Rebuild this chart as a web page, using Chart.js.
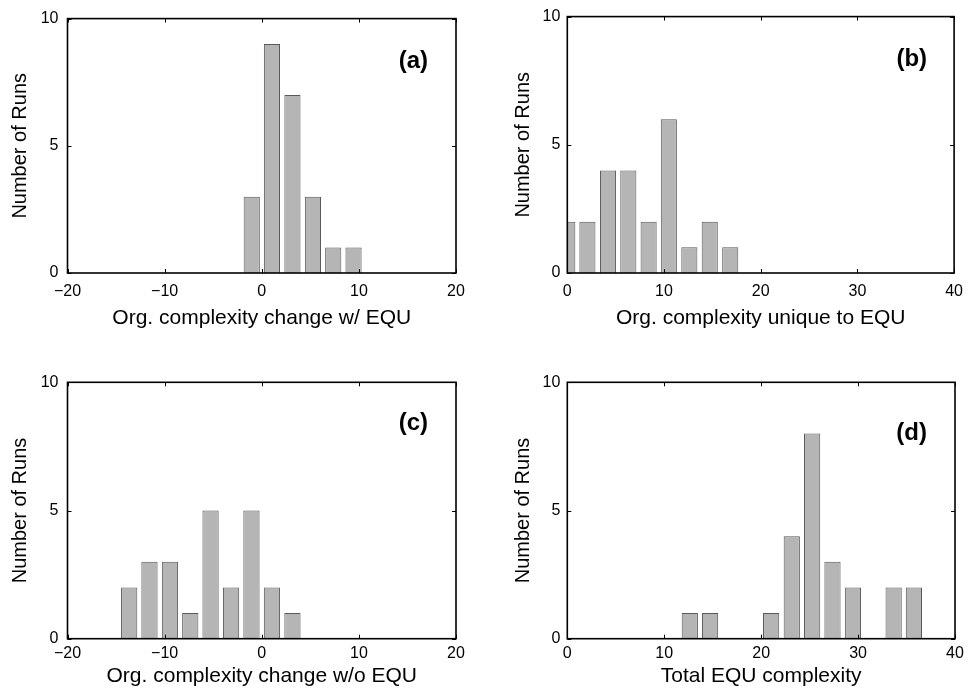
<!DOCTYPE html>
<html lang="en">
<head>
<meta charset="UTF-8">
<title>EQU complexity histograms</title>
<script src="https://cdn.jsdelivr.net/npm/chart.js"></script>
<style>
  html, body { margin: 0; padding: 0; background: #fff; }
  #wrap { position: relative; width: 972px; height: 694px; }
  #wrap canvas { position: absolute; }
</style>
</head>
<body>
<div id="wrap">
  <canvas id="chartA" width="486" height="347" style="left:0;top:0"></canvas>
  <canvas id="chartB" width="486" height="347" style="left:486px;top:0"></canvas>
  <canvas id="chartC" width="486" height="347" style="left:0;top:347px"></canvas>
  <canvas id="chartD" width="486" height="347" style="left:486px;top:347px"></canvas>
</div>
<script>
// bin centres and run counts
const binsA = [-1.03, 1.05, 3.16, 5.27, 7.36, 9.45];
const runsA = [3, 9, 7, 3, 1, 1];
const binsB = [0.0, 2.08, 4.21, 6.31, 8.41, 10.5, 12.62, 14.73, 16.85];
const runsB = [2, 2, 4, 4, 2, 6, 1, 2, 1];
const binsC = [-13.65, -11.56, -9.45, -7.36, -5.27, -3.16, -1.06, 1.05, 3.16];
const runsC = [2, 3, 3, 1, 5, 2, 5, 2, 1];
const binsD = [12.64, 14.73, 21.03, 23.16, 25.26, 27.36, 29.47, 33.67, 35.76];
const runsD = [1, 1, 1, 4, 8, 3, 2, 2, 2];

const xTicksChange = [-20, -10, 0, 10, 20];
const xTicksTotal = [0, 10, 20, 30, 40];
const yTicks = [0, 5, 10];

const FONT = '"Liberation Sans", Arial, Helvetica, sans-serif';
Chart.defaults.color = '#000';
Chart.defaults.font.family = FONT;

// matlab-ish box with inward ticks, plus the (a)-(d) tag
const framePlugin = {
  id: 'frame',
  afterDatasetsDraw(chart, args, opts) {
    const { ctx, chartArea: a, scales: { x, y } } = chart;
    ctx.save();
    ctx.strokeStyle = '#000';
    ctx.lineWidth = 1;
    ctx.beginPath();
    x.ticks.forEach(t => {
      const px = Math.round(x.getPixelForValue(t.value)) + 0.5;
      ctx.moveTo(px, a.bottom); ctx.lineTo(px, a.bottom - 4);
      ctx.moveTo(px, a.top); ctx.lineTo(px, a.top + 4);
    });
    y.ticks.forEach(t => {
      const py = Math.round(y.getPixelForValue(t.value)) + 0.5;
      ctx.moveTo(a.left, py); ctx.lineTo(a.left + 4, py);
      ctx.moveTo(a.right, py); ctx.lineTo(a.right - 4, py);
    });
    ctx.stroke();
    ctx.lineWidth = 1.6;
    ctx.strokeRect(a.left, a.top, a.right - a.left, a.bottom - a.top);

    ctx.fillStyle = '#000';
    ctx.font = 'bold 24px ' + FONT;
    ctx.textAlign = 'right';
    ctx.textBaseline = 'middle';
    ctx.fillText(opts.tag, a.right - opts.tagRight, a.top + opts.tagY);
    ctx.restore();
  }
};

function minusFmt(v) {
  return v < 0 ? '\u2212' + Math.abs(v) : String(v);
}

function makePanel(id, p) {
  return new Chart(document.getElementById(id), {
    type: 'bar',
    data: {
      datasets: [{
        data: p.bins.map((b, i) => ({ x: b, y: p.runs[i] })),
        backgroundColor: '#b5b5b5',
        borderColor: '#585858',
        borderWidth: 1,
        borderSkipped: 'bottom',
        barPercentage: 0.8,
        categoryPercentage: 1.0,
        clip: 0
      }]
    },
    options: {
      responsive: false,
      devicePixelRatio: 1,
      animation: false,
      events: [],
      layout: { padding: { left: 0, right: p.padRight, top: p.padTop, bottom: 0 } },
      plugins: {
        legend: { display: false },
        tooltip: { enabled: false },
        frame: { tag: p.tag, tagRight: p.tagRight, tagY: p.tagY }
      },
      scales: {
        x: {
          type: 'linear',
          offset: false,
          min: p.xTicks[0],
          max: p.xTicks[p.xTicks.length - 1],
          grid: { display: false, drawTicks: false },
          border: { display: false },
          afterBuildTicks: s => { s.ticks = p.xTicks.map(v => ({ value: v })); },
          afterFit: s => { s.height = p.xAxisHeight; },
          ticks: {
            autoSkip: false,
            maxRotation: 0,
            padding: p.xTickPad,
            font: { size: 16 },
            callback: v => minusFmt(v)
          },
          title: {
            display: true,
            text: p.xTitle,
            font: { size: 21 },
            padding: { top: 0, bottom: p.xTitlePad }
          }
        },
        y: {
          min: 0,
          max: 10,
          grid: { display: false, drawTicks: false },
          border: { display: false },
          afterBuildTicks: s => { s.ticks = yTicks.map(v => ({ value: v })); },
          afterFit: s => { s.width = p.yAxisWidth; },
          ticks: { padding: p.yTickPad, font: { size: 16 } },
          title: {
            display: true,
            text: 'Number of Runs',
            font: { size: 20 },
            padding: { top: p.yTitlePad, bottom: 0 }
          }
        }
      }
    },
    plugins: [framePlugin]
  });
}

makePanel('chartA', {
  bins: binsA, runs: runsA, xTicks: xTicksChange, tag: '(a)',
  xTitle: 'Org. complexity change w/ EQU',
  yAxisWidth: 67.5, padRight: 30, padTop: 15, xAxisHeight: 74,
  yTitlePad: 8, yTickPad: 9, xTickPad: 9, xTitlePad: 16,
  tagRight: 28, tagY: 42.5
});
makePanel('chartB', {
  bins: binsB, runs: runsB, xTicks: xTicksTotal, tag: '(b)',
  xTitle: 'Org. complexity unique to EQU',
  yAxisWidth: 81.3, padRight: 17, padTop: 15, xAxisHeight: 74,
  yTitlePad: 25.3, yTickPad: 7, xTickPad: 9, xTitlePad: 16,
  tagRight: 27, tagY: 42.5
});
makePanel('chartC', {
  bins: binsC, runs: runsC, xTicks: xTicksChange, tag: '(c)',
  xTitle: 'Org. complexity change w/o EQU',
  yAxisWidth: 67.5, padRight: 30, padTop: 35.3, xAxisHeight: 55.3,
  yTitlePad: 8, yTickPad: 9, xTickPad: 5, xTitlePad: 5,
  tagRight: 28, tagY: 41
});
makePanel('chartD', {
  bins: binsD, runs: runsD, xTicks: xTicksTotal, tag: '(d)',
  xTitle: 'Total EQU complexity',
  yAxisWidth: 81.3, padRight: 17, padTop: 35.3, xAxisHeight: 55.3,
  yTitlePad: 25.3, yTickPad: 7, xTickPad: 5, xTitlePad: 5,
  tagRight: 28, tagY: 51
});
</script>
</body>
</html>
